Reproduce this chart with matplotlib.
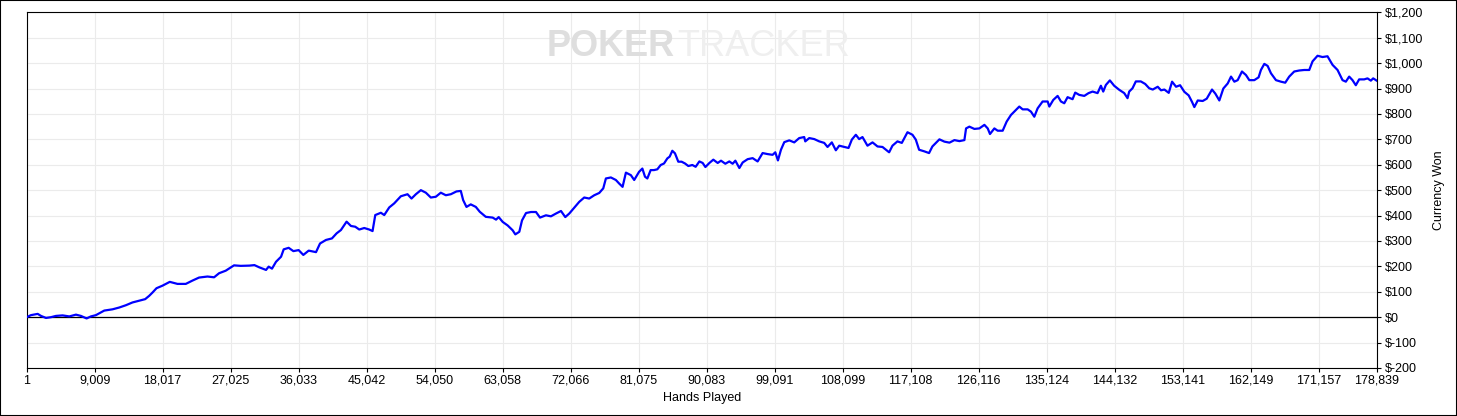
import matplotlib
matplotlib.use("Agg")
import matplotlib.pyplot as plt
from matplotlib.patches import Rectangle

plt.rcParams['font.family'] = ['Liberation Sans', 'DejaVu Sans']

# hands played / cumulative winnings
hands = [1, 570, 1460, 1900, 2560, 3220, 3880, 4760, 5650, 6530, 7190, 7940, 8510, 9170,
         10280, 11380, 12260, 13140, 14020, 14910, 15700, 16230, 16670, 17200, 17990, 18960,
         19980, 21080, 21960, 22840, 23950, 24830, 25490, 26370, 27470, 28360,
         29500, 30170, 30830, 31710, 32060, 32500, 33030, 33700, 34050, 34710, 35330, 36030,
         36650, 37360, 38330, 38860, 39650, 40440, 41060, 41630, 42380, 42960, 43530, 44060,
         44720, 45380, 45820, 46180, 46920, 47370, 48030, 48690, 49570, 50450, 50980, 51560,
         52220, 52880, 53540, 54200, 54860, 55530, 56190, 56940, 57510, 57820, 58260, 58830,
         59500, 60020, 60820,
         61730, 62180, 62530, 63060, 63720, 64380, 64730, 65260, 65620, 66150, 66810, 67470,
         68000, 68790, 69450, 70120, 70780, 71350, 71880, 72540, 73200, 73860, 74520, 75190,
         75850, 76380, 76730, 77390, 78050, 78490, 78940, 79380, 80040, 80480,
         81120, 81560, 81910, 82220, 82660, 83100, 83540, 83990, 84430, 84870, 85180, 85530,
         85880, 86320, 86760, 87210, 87650, 88180, 88620,
         89110, 89550, 89910, 90440, 90960, 91540, 91980, 92550, 93080, 93520, 93880, 94410,
         94850, 95510, 96170, 96830, 97490, 98150, 98810, 99170, 99520, 99920, 100360, 101020,
         101680, 102340, 103000, 103140, 103670, 104330, 104990, 105650, 106090, 106660, 107190,
         107640, 108300, 108870, 109310, 109840, 110280, 110720, 111380, 112050, 112710, 113370,
         114250, 114690, 115350, 115930, 116680, 117340, 117780, 118220, 118880, 119540, 119980,
         120910, 121570, 122240, 122900, 123560, 124220, 124440, 124880, 125540, 126200, 126870,
         127310, 127610, 128190, 128630, 129290, 129820, 130390, 131050, 131490, 131940, 132600,
         133040, 133480, 133920, 134580, 135250, 135470, 135990, 136570, 137010, 137450, 137890,
         138550, 138900, 139430, 140100, 140670, 141200, 141860, 142300, 142610, 142960, 143490,
         144060, 144730, 145390, 145830, 146050, 146490, 146930, 147590, 148170, 148700,
         149170, 149830, 150270, 150710, 151290, 151730, 152260, 152790, 153360, 153930, 154380,
         154680, 155130, 155790, 156320, 157020, 157460, 157990, 158520, 159100, 159540, 159980,
         160420, 160990, 161520, 161960, 162620, 163190, 163500, 163950, 164390, 164830, 165490,
         166150, 166720, 167250, 167910, 168580, 169240, 169900, 170340, 171000, 171660, 172320,
         172990, 173650, 174310, 174750, 175190, 175630, 176070, 176510, 177180, 177620, 178060,
         178370, 178839]
won = [0, 8, 13, 5, -3, 0, 5, 7, 3, 10, 5, -5, 3, 8,
       26, 31, 38, 47, 58, 65, 71, 84, 97, 114, 124, 139,
       131, 131, 144, 156, 160, 157, 173, 183, 204, 202,
       203, 205, 196, 186, 199, 191, 218, 238, 267, 273, 260, 264,
       245, 262, 256, 290, 304, 310, 330, 343, 376, 359, 356, 345,
       351, 345, 339, 402, 411, 402, 432, 448, 476, 484, 467, 484,
       500, 490, 471, 474, 490, 480, 484, 495, 497, 461, 434, 444,
       434, 415, 395,
       392, 384, 394, 375, 361, 342, 326, 336, 381, 410, 414, 414,
       392, 401, 397, 408, 418, 394, 408, 431, 454, 471, 467, 480,
       489, 507, 546, 550, 540, 526, 513, 569, 559, 540,
       572, 585, 553, 546, 579, 579, 582, 599, 605, 625, 632, 655,
       645, 612, 612, 605, 595, 599, 592,
       613, 607, 591, 607, 620, 607, 616, 604, 613, 604, 616, 587,
       609, 622, 626, 613, 646, 642, 639, 649, 617, 659, 689, 696,
       688, 705, 709, 692, 705, 701, 692, 686, 670, 688, 657,
       675, 670, 666, 699, 718, 701, 709, 675, 688, 672, 670,
       649, 675, 692, 686, 728, 718, 699, 659, 653, 646, 672,
       700, 691, 687, 697, 693, 697, 743, 750, 741, 743, 757,
       743, 721, 743, 734, 734, 770, 796, 816, 829, 818, 818,
       809, 789, 822, 849, 849, 829, 855, 871, 849, 842, 866,
       858, 884, 875, 871, 882, 888, 882, 911, 888, 914, 932,
       911, 895, 882, 862, 888, 901, 928, 928, 918, 901,
       896, 907, 893, 896, 883, 927, 907, 913, 887, 873, 847,
       827, 853, 851, 860, 896, 880, 853, 900, 920, 947, 927,
       933, 967, 953, 933, 933, 944, 973, 997, 989, 960, 933,
       927, 923, 947, 967, 971, 973, 973, 1007, 1029, 1024, 1027,
       993, 973, 933, 927, 947, 933, 913, 936, 936, 940, 931,
       940, 931]

xticks = [1, 9009, 18017, 27025, 36033, 45042, 54050, 63058, 72066, 81075, 90083,
          99091, 108099, 117108, 126116, 135124, 144132, 153141, 162149, 171157, 178839]
yticks = list(range(-200, 1201, 100))

fig = plt.figure(figsize=(14.57, 4.16), dpi=100, facecolor='white')
ax = fig.add_axes([0.0183, 0.1154, 0.9266, 0.855])

ax.plot(hands, won, color='#0000ff', lw=1.6, zorder=3)
ax.axhline(0, color='black', lw=0.9, zorder=2)

ax.set_xlim(1, 178839)
ax.set_ylim(-200, 1200)
ax.set_xticks(xticks)
ax.set_xticklabels([f"{t:,}" for t in xticks])
ax.set_yticks(yticks)
ax.set_yticklabels([f"${t:,}" for t in yticks])

ax.yaxis.tick_right()
ax.yaxis.set_label_position('right')
ax.tick_params(axis='both', direction='out', length=3, width=0.8, labelsize=9, colors='black')
ax.tick_params(axis='y', pad=3)
ax.tick_params(axis='x', pad=2)
ax.grid(True, color='#ebebeb', lw=0.8)
ax.set_axisbelow(True)
for s in ax.spines.values():
    s.set_linewidth(0.8)

ax.set_xlabel('Hands Played', fontsize=9, labelpad=4)
ax.set_ylabel('Currency Won', fontsize=9, labelpad=7)

# faint watermark
ax.text(0.4803, 0.905, 'POKER', transform=ax.transAxes, ha='right', va='center',
        fontsize=26, fontweight='bold', color='#dedede', zorder=1)
ax.text(0.4818, 0.905, 'TRACKER', transform=ax.transAxes, ha='left', va='center',
        fontsize=26, color='#efefef', zorder=1)

fig.add_artist(Rectangle((0, 0), 1, 1, fill=False, lw=1.5, edgecolor='black',
                         transform=fig.transFigure))

fig.savefig('out.png', dpi=100)
